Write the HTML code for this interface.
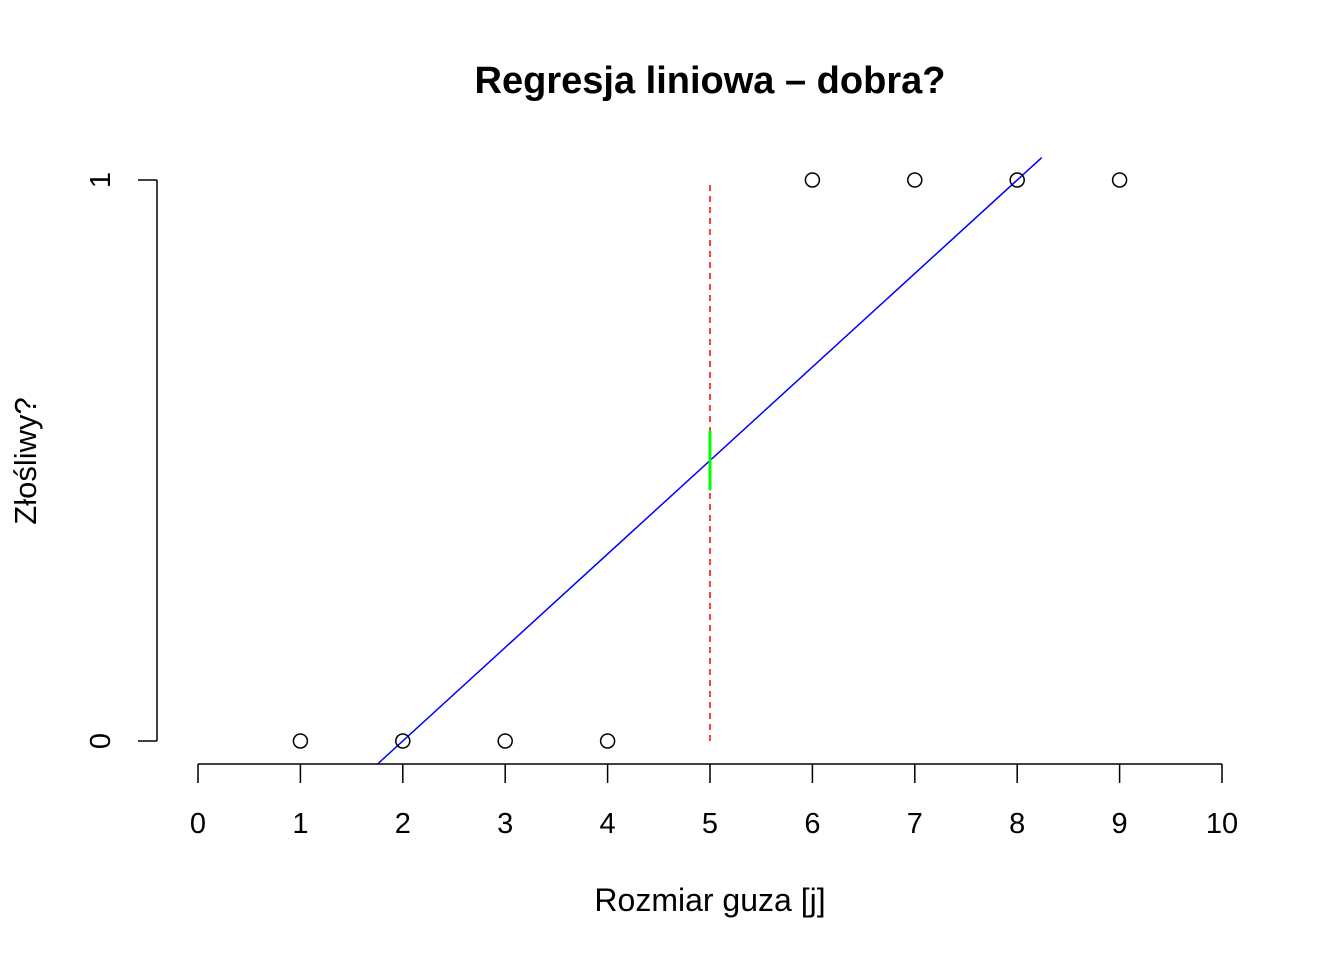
<!DOCTYPE html>
<html><head><meta charset="utf-8"><style>
html,body{margin:0;padding:0;background:#fff}
svg{display:block;font-family:"Liberation Sans",sans-serif}
</style></head><body>
<svg id="c" width="1344" height="960" xmlns="http://www.w3.org/2000/svg">
<text x="710" y="93" text-anchor="middle" font-size="38" font-weight="bold">Regresja liniowa – dobra?</text>
<text x="710" y="911" text-anchor="middle" font-size="32">Rozmiar guza [j]</text>
<text transform="translate(36,461) rotate(-90)" text-anchor="middle" font-size="31">Złośliwy?</text>
<g id="g"></g>
</svg>
<script>
const xs = [1,2,3,4,6,7,8,9];
const ys = [0,0,0,0,1,1,1,1];
const xTicks = [0,1,2,3,4,5,6,7,8,9,10];
const yTicks = [0,1];
const threshold = 5;
const greenHalf = 0.053;

const NS = "http://www.w3.org/2000/svg";
const g = document.getElementById('g');
const X = v => 198 + v * 102.4;
const Y = v => 741 - v * 561;
function el(t, a){const e=document.createElementNS(NS,t);for(const k in a)e.setAttribute(k,a[k]);g.appendChild(e);return e;}

let ax = el('line',{x1:X(0),x2:X(10),y1:764,y2:764,stroke:'#000','stroke-width':1.5});


xTicks.forEach(t=>{
  const l=el('line',{x1:X(t),x2:X(t),y1:764,y2:783,stroke:'#000','stroke-width':1.5});
  
  
  const tx=el('text',{x:X(t),y:833,'text-anchor':'middle','font-size':29});
  tx.textContent=t;
  
  
});
let ay = el('line',{x1:157,x2:157,y1:Y(1),y2:Y(0),stroke:'#000','stroke-width':1.5});


yTicks.forEach(t=>{
  const l=el('line',{x1:138,x2:157,y1:Y(t),y2:Y(t),stroke:'#000','stroke-width':1.5});
  
  
  const tx=el('text',{transform:`translate(110,${Y(t)}) rotate(-90)`,'text-anchor':'middle','font-size':29});
  tx.textContent=t;
  
  
});

const n=xs.length, mx=xs.reduce((a,b)=>a+b)/n, my=ys.reduce((a,b)=>a+b)/n;
let sxy=0,sxx=0; xs.forEach((x,i)=>{sxy+=(x-mx)*(ys[i]-my);sxx+=(x-mx)**2;});
const b=sxy/sxx, a=my-b*mx;
const yLo=-0.04, yHi=1.04;
const x0=(yLo-a)/b, x1=(yHi-a)/b;
const rl=el('line',{x1:X(x0),y1:Y(yLo),x2:X(x1),y2:Y(yHi),stroke:'#0000ff','stroke-width':1.5});



const th=el('line',{x1:X(threshold),x2:X(threshold),y1:Y(0),y2:Y(1),stroke:'#ff0000','stroke-width':1.5,'stroke-dasharray':'6,5'});


const yc=a+b*threshold;
const gs=el('line',{x1:X(threshold),x2:X(threshold),y1:Y(yc+greenHalf),y2:Y(yc-greenHalf),stroke:'#00ff00','stroke-width':3});



xs.forEach((x,i)=>{
  const c=el('circle',{cx:X(x),cy:Y(ys[i]),r:7,fill:'none',stroke:'#000','stroke-width':1.5});
  
  
});
</script>
</body></html>
